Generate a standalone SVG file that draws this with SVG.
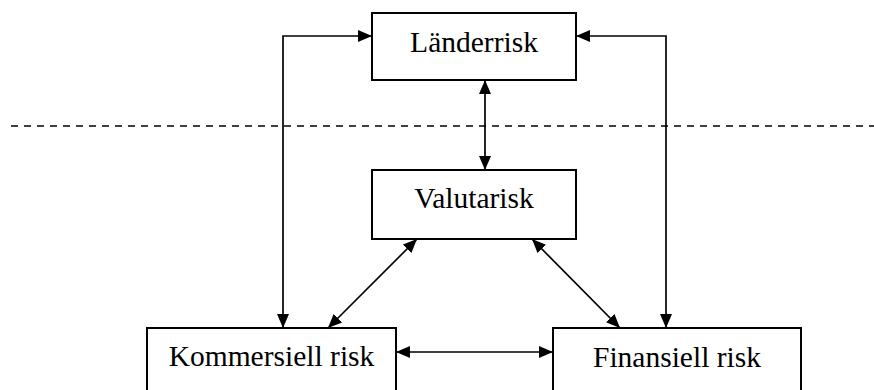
<svg xmlns="http://www.w3.org/2000/svg" width="874" height="390" viewBox="0 0 874 390">
<style>
.box{fill:#fff;stroke:#000;stroke-width:2}
.lbl{font-family:"Liberation Serif","Times New Roman",serif;font-size:29.5px;fill:#000;text-anchor:middle}
.con{fill:none;stroke:#000;stroke-width:1.7;marker-start:url(#ah);marker-end:url(#ah)}
.dash{fill:none;stroke:#000;stroke-width:1.5;stroke-dasharray:7,6}
</style>
<defs>
<marker id="ah" markerUnits="userSpaceOnUse" markerWidth="15" markerHeight="13" refX="14" refY="6" orient="auto-start-reverse">
<path d="M0,0 L14,6 L0,12 z" fill="#000"/>
</marker>
</defs>
<line class="dash" x1="11" y1="126" x2="874" y2="126"/>
<g id="connectors">
<path class="con" d="M372,36 H283 V328"/>
<path class="con" d="M576,36 H666 V328"/>
<path class="con" d="M485,80 V170"/>
<path class="con" d="M417,239 L328,328"/>
<path class="con" d="M532,239 L620,328"/>
<path class="con" d="M396,352 H553"/>
</g>
<g id="landerrisk">
<rect class="box" x="372" y="13" width="204" height="67"/>
<text class="lbl" x="474" y="52">Länderrisk</text>
</g>
<g id="valutarisk">
<rect class="box" x="372" y="170" width="204" height="69"/>
<text class="lbl" x="474" y="208">Valutarisk</text>
</g>
<g id="kommersiell">
<rect class="box" x="147" y="328" width="249" height="80"/>
<text class="lbl" x="271.5" y="366">Kommersiell risk</text>
</g>
<g id="finansiell">
<rect class="box" x="553" y="328" width="248" height="80"/>
<text class="lbl" x="677" y="367">Finansiell risk</text>
</g>
</svg>
